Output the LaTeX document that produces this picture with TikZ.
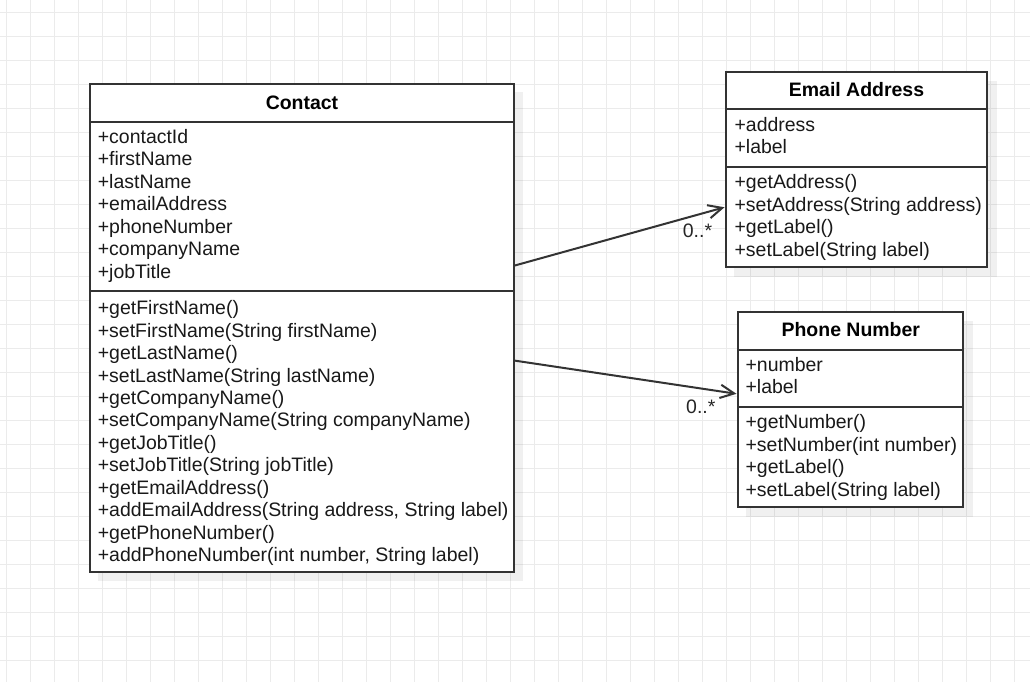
\documentclass[tikz,border=0pt]{standalone}
\usepackage{fontspec}
\setmainfont{Liberation Sans}
\usetikzlibrary{arrows.meta,fit}
\definecolor{gridc}{HTML}{EBEBEB}
\definecolor{linec}{HTML}{333333}
\begin{document}
\begin{tikzpicture}[x=0.75pt,y=-0.75pt,
  gridline/.style={draw=gridc,line width=0.75pt},
  classbox/.style={draw=linec,line width=1.5pt,fill=white,inner sep=0pt},
  shadowbox/.style={fill=black,fill opacity=0.06,draw=none,inner sep=0pt},
  sepline/.style={draw=linec,line width=1.5pt},
  txt/.style={anchor=base west,inner sep=0pt,font=\fontsize{14.6pt}{17pt}\selectfont,text=black!90},
  hdr/.style={anchor=base,inner sep=0pt,font=\fontsize{14.6pt}{17pt}\selectfont\bfseries,text=black},
  assoc/.style={draw=linec,line width=1.5pt,-{Straight Barb[length=10.5pt,width=10pt]}},
  mult/.style={anchor=base,inner sep=0pt,font=\fontsize{14.6pt}{17pt}\selectfont,text=black!85}]
% canvas
\useasboundingbox (0,0) rectangle (1030,682);
\fill[white] (0,0) rectangle (1030,682);
\foreach \i in {0,...,42} \draw[gridline] ({6.7+24*\i},0) -- ({6.7+24*\i},682);
\foreach \j in {0,...,27} \draw[gridline] (0,{12.7+24*\j}) -- (1030,{12.7+24*\j});
% shadows
\node[shadowbox,fit={(98,92)(523,581)}] (contactshadow) {};
\node[shadowbox,fit={(734,81)(996.5,276.5)}] (emailshadow) {};
\node[shadowbox,fit={(746,321)(972.5,516.5)}] (phoneshadow) {};
% class boxes
\node[classbox,fit={(90,84)(514,571.7)}] (contact) {};
\node[classbox,fit={(725.5,72.3)(987.3,267.3)}] (email) {};
\node[classbox,fit={(737.5,312.3)(963.3,507.3)}] (phone) {};
% compartment separators
\draw[sepline] (90,121.7) -- (514,121.7);
\draw[sepline] (90,291) -- (514,291);
\draw[sepline] (725.5,109.3) -- (987.3,109.3);
\draw[sepline] (725.5,166.7) -- (987.3,166.7);
\draw[sepline] (737.5,350) -- (963.3,350);
\draw[sepline] (737.5,407.3) -- (963.3,407.3);
% headers
\node[hdr] (contacthdr) at (302,109.3) {Contact};
\node[hdr] (emailhdr) at (856.5,96) {Email Address};
\node[hdr] (phonehdr) at (850.8,336) {Phone Number};
% Contact attributes
\foreach \t [count=\i from 0] in {+contactId,+firstName,+lastName,+emailAddress,+phoneNumber,+companyName,+jobTitle}
  \node[txt] (ca\i) at (97.6,{143.3+22.45*\i}) {\t};
% Contact methods
\foreach \t [count=\i from 0] in {+getFirstName(),{+setFirstName(String firstName)},+getLastName(),{+setLastName(String lastName)},+getCompanyName(),{+setCompanyName(String companyName)},+getJobTitle(),{+setJobTitle(String jobTitle)},+getEmailAddress(),{+addEmailAddress(String address, String label)},+getPhoneNumber(),{+addPhoneNumber(int number, String label)}}
  \node[txt] (cm\i) at (97.6,{314.7+22.45*\i}) {\t};
% Email Address
\foreach \t [count=\i from 0] in {+address,+label}
  \node[txt] (ea\i) at (734.3,{131+22.7*\i}) {\t};
\foreach \t [count=\i from 0] in {+getAddress(),{+setAddress(String address)},+getLabel(),{+setLabel(String label)}}
  \node[txt] (em\i) at (734.3,{188.5+22.7*\i}) {\t};
% Phone Number
\foreach \t [count=\i from 0] in {+number,+label}
  \node[txt] (pa\i) at (745.3,{371+22.7*\i}) {\t};
\foreach \t [count=\i from 0] in {+getNumber(),{+setNumber(int number)},+getLabel(),{+setLabel(String label)}}
  \node[txt] (pm\i) at (745.3,{428.4+22.7*\i}) {\t};
% associations
\draw[assoc] ([yshift=46.8pt]contact.east) -- ([yshift=-28.1pt]email.west);
\draw[assoc] ([yshift=-24.6pt]contact.east) -- ([yshift=12pt]phone.west);
\node[mult] (m1) at (697.5,237.7) {0..*};
\node[mult] (m2) at (700.8,413.3) {0..*};
\end{tikzpicture}
\end{document}
